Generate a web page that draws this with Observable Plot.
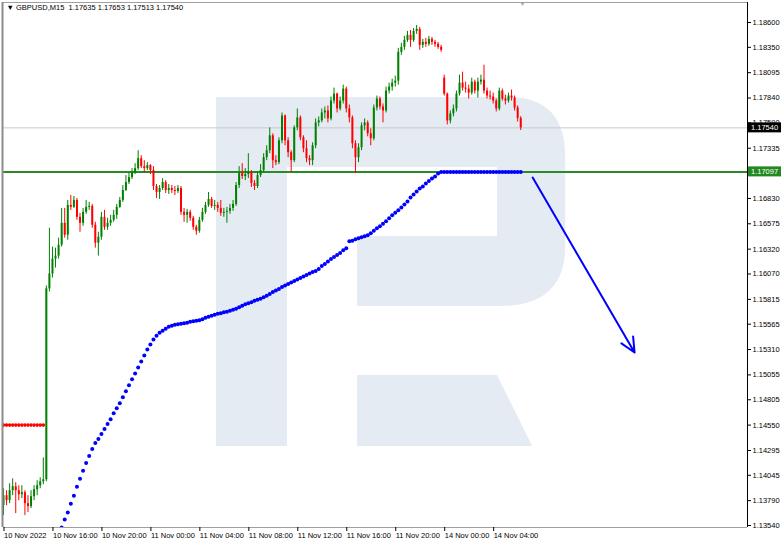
<!DOCTYPE html>
<html><head><meta charset="utf-8">
<script src="https://cdn.jsdelivr.net/npm/d3@7"></script>
<script src="https://cdn.jsdelivr.net/npm/@observablehq/plot@0.6"></script>
<style>
html,body{margin:0;padding:0;background:#fff;}
#chart{width:782px;height:543px;overflow:hidden;}
</style></head><body><div id="chart"></div>
<script>
// ---------- data ----------
const symbolLabel = "GBPUSD,M15";
const lastQuote = [1.17635, 1.17653, 1.17513, 1.17540];
const timeTickBars = [0, 16, 32, 48, 64, 80, 96, 112, 128, 144, 160];
const timeLabels = ["10 Nov 2022", "10 Nov 16:00", "10 Nov 20:00", "11 Nov 00:00", "11 Nov 04:00",
  "11 Nov 08:00", "11 Nov 12:00", "11 Nov 16:00", "11 Nov 20:00", "14 Nov 00:00", "14 Nov 04:00"];
const priceTicks = [1.18600, 1.18350, 1.18095, 1.17840, 1.17590, 1.17335, 1.16830, 1.16575, 1.16320,
  1.16070, 1.15815, 1.15565, 1.15310, 1.15055, 1.14805, 1.14550, 1.14295, 1.14045, 1.13790, 1.13540];

const firstOpen = 1.1374;
const gapBar = 144, gapOpen = 1.1804;
const closes = [
  1.1384,1.1379,1.1389,1.1393,1.1389,1.1385,1.1387,1.1376,1.1373,1.1383,
  1.1390,1.1394,1.1398,1.1400,1.1592,1.1607,1.1622,1.1625,1.1636,1.1658,
  1.1646,1.1676,1.1674,1.1681,1.1664,1.1658,1.1669,1.1674,1.1675,1.1656,
  1.1638,1.1644,1.1664,1.1654,1.1658,1.1661,1.1666,1.1674,1.1681,1.1691,
  1.1699,1.1704,1.1709,1.1713,1.1723,1.1715,1.1713,1.1716,1.1711,1.1695,
  1.1689,1.1693,1.1699,1.1691,1.1693,1.1691,1.1690,1.1693,1.1669,1.1666,
  1.1669,1.1663,1.1654,1.1650,1.1661,1.1669,1.1676,1.1682,1.1675,1.1676,
  1.1673,1.1668,1.1669,1.1670,1.1673,1.1677,1.1696,1.1708,1.1705,1.1707,
  1.1709,1.1698,1.1695,1.1706,1.1711,1.1724,1.1731,1.1746,1.1721,1.1719,
  1.1741,1.1766,1.1741,1.1729,1.1721,1.1754,1.1764,1.1744,1.1733,1.1723,
  1.1721,1.1736,1.1759,1.1761,1.1769,1.1771,1.1763,1.1781,1.1788,1.1773,
  1.1781,1.1793,1.1773,1.1764,1.1738,1.1724,1.1734,1.1756,1.1759,1.1748,
  1.1743,1.1774,1.1783,1.1775,1.1771,1.1791,1.1795,1.1799,1.1801,1.1830,
  1.1835,1.1842,1.1847,1.1842,1.1851,1.1853,1.1837,1.1840,1.1838,1.1843,
  1.1840,1.1838,1.1835,1.1832,1.1788,1.1761,1.1768,1.1773,1.1788,1.1799,
  1.1794,1.1793,1.1789,1.1800,1.1791,1.1800,1.1802,1.1791,1.1786,1.1785,
  1.1781,1.1773,1.1791,1.1783,1.1781,1.1786,1.1784,1.1774,1.17635,1.17540];
const highs = [
  1.1391,1.1389,1.1396,1.1401,1.1397,1.1394,1.1394,1.1389,1.1384,1.1389,
  1.1394,1.1399,1.1402,1.1422,1.1595,1.1653,1.1634,1.1633,1.1643,1.1673,
  1.1673,1.1681,1.1686,1.1685,1.1683,1.1668,1.1673,1.1681,1.1679,1.1677,
  1.1659,1.1649,1.1669,1.1671,1.1663,1.1666,1.1671,1.1677,1.1684,1.1696,
  1.1706,1.1709,1.1713,1.1718,1.1731,1.1726,1.1721,1.1719,1.1717,1.1715,
  1.1697,1.1696,1.1703,1.1701,1.1697,1.1696,1.1695,1.1696,1.1695,1.1673,
  1.1672,1.1671,1.1665,1.1656,1.1664,1.1673,1.1679,1.1689,1.1684,1.1681,
  1.1679,1.1681,1.1673,1.1674,1.1677,1.1681,1.1699,1.1715,1.1718,1.1713,
  1.1728,1.1711,1.1701,1.1709,1.1717,1.1728,1.1736,1.1754,1.1748,1.1726,
  1.1744,1.1769,1.1767,1.1744,1.1731,1.1756,1.1773,1.1766,1.1746,1.1741,
  1.1726,1.1739,1.1763,1.1765,1.1773,1.1775,1.1776,1.1785,1.1794,1.1789,
  1.1785,1.1797,1.1795,1.1777,1.1766,1.1741,1.1738,1.1759,1.1763,1.1761,
  1.1753,1.1777,1.1786,1.1785,1.1778,1.1795,1.1799,1.1803,1.1806,1.1834,
  1.1839,1.1846,1.1851,1.1852,1.1854,1.1857,1.1855,1.1843,1.1844,1.1846,
  1.1845,1.1842,1.1840,1.1837,1.1807,1.1789,1.1771,1.1777,1.1791,1.1807,
  1.1810,1.1800,1.1797,1.1804,1.1802,1.1804,1.1807,1.1817,1.1794,1.1791,
  1.1789,1.1783,1.1794,1.1793,1.1787,1.1789,1.1792,1.1786,1.1776,1.17653];
const lows = [
  1.1364,1.1374,1.1376,1.1384,1.1366,1.1379,1.1381,1.1364,1.1367,1.1371,
  1.1379,1.1384,1.1391,1.1395,1.1398,1.1589,1.1603,1.1613,1.1622,1.1634,
  1.1643,1.1641,1.1671,1.1673,1.1661,1.1649,1.1655,1.1667,1.1671,1.1653,
  1.1633,1.1625,1.1641,1.1651,1.1651,1.1655,1.1659,1.1662,1.1673,1.1679,
  1.1690,1.1697,1.1702,1.1707,1.1711,1.1713,1.1709,1.1711,1.1707,1.1691,
  1.1683,1.1682,1.1691,1.1688,1.1687,1.1688,1.1686,1.1688,1.1666,1.1659,
  1.1658,1.1660,1.1651,1.1646,1.1648,1.1659,1.1667,1.1674,1.1673,1.1671,
  1.1669,1.1665,1.1664,1.1658,1.1667,1.1670,1.1675,1.1693,1.1702,1.1701,
  1.1703,1.1694,1.1691,1.1693,1.1704,1.1709,1.1721,1.1728,1.1713,1.1716,
  1.1717,1.1738,1.1736,1.1724,1.1709,1.1719,1.1751,1.1741,1.1729,1.1719,
  1.1716,1.1716,1.1733,1.1755,1.1759,1.1763,1.1759,1.1761,1.1778,1.1769,
  1.1771,1.1778,1.1769,1.1759,1.1733,1.1708,1.1719,1.1731,1.1751,1.1745,
  1.1736,1.1741,1.1771,1.1772,1.1759,1.1769,1.1788,1.1791,1.1795,1.1797,
  1.1827,1.1832,1.1840,1.1835,1.1840,1.1848,1.1832,1.1834,1.1835,1.1836,
  1.1837,1.1835,1.1833,1.1830,1.1786,1.1757,1.1758,1.1765,1.1770,1.1786,
  1.1791,1.1789,1.1783,1.1787,1.1788,1.1784,1.1797,1.1788,1.1783,1.1782,
  1.1778,1.1770,1.1771,1.1781,1.1777,1.1779,1.1781,1.1771,1.1760,1.17513];

// blue dotted indicator, one value per bar starting at bar 19
const trendStart = 19;
const trendValues = [
  1.1352,1.1360,1.1367,1.1376,1.1384,1.1393,1.1401,1.1409,1.1417,1.1424,
  1.1431,1.1437,1.1441,1.1446,1.1451,1.1456,1.1461,1.1467,1.1472,1.1477,
  1.1483,1.1489,1.1495,1.1501,1.1507,1.1513,1.1519,1.1525,1.1531,1.1536,
  1.1541,1.1545,1.1548,1.1550,1.1552,1.1554,1.1555,1.1556,1.15565,1.1557,
  1.15575,1.1558,1.1559,1.15595,1.1560,1.15605,1.15615,1.1563,1.1564,1.1565,
  1.1566,1.1567,1.15675,1.15685,1.1569,1.1570,1.1571,1.1572,1.15735,1.1575,
  1.15765,1.15775,1.15785,1.1580,1.1581,1.1582,1.15835,1.1585,1.1587,1.1589,
  1.15905,1.1592,1.1594,1.15955,1.1597,1.15985,1.1600,1.16015,1.1603,1.16045,
  1.1606,1.16075,1.1609,1.1610,1.1612,1.1615,1.1617,1.16195,1.1622,1.1624,
  1.1626,1.1628,1.1631,1.1633,1.1640,1.16405,1.1642,1.1643,1.1644,1.1645,
  1.1646,1.1648,1.16505,1.1653,1.1655,1.16575,1.1660,1.1663,1.1666,1.16685,
  1.1671,1.1674,1.1677,1.1680,1.1684,1.1687,1.1690,1.1693,1.1695,1.1698,
  1.17005,1.1703,1.1705,1.1708,1.17095,1.17097,1.17097,1.17097,1.17097,1.17097,
  1.17097,1.17097,1.17097,1.17097,1.17097,1.17097,1.17097,1.17097,1.17097,1.17097,
  1.17097,1.17097,1.17097,1.17097,1.17097,1.17097,1.17097,1.17097,1.17097,1.17097,
  1.17097];
// red dotted level on the first bars
const redLevelBars = [0,1,2,3,4,5,6,7,8,9,10,11,12,13];
const redLevelValue = 1.1455;
const supportLevel = 1.17097;
const bidLevel = 1.17540;
const forecast = [{x1: 172.9, y1: 1.1704, x2: 206.2, y2: 1.1528}];
const shiftMarkerBar = 169.6;

// watermark ("R" logo) outline, in (bar, price) units
const logoBody = [[69.6,1.17845],[165,1.17845],["q",183.7,1.17845,183.7,1.17242],[183.7,1.16346],
  ["q",183.7,1.15743,162.4,1.15743],[115.7,1.15743],[115.7,1.16447],[161.4,1.16447],[161.4,1.17141],
  [92.8,1.17141],[92.8,1.14334],[69.6,1.14334]];
const logoLeg = [[115.7,1.15049],[161.4,1.15049],[172.9,1.14334],[115.7,1.14334]];

// ---------- build ----------
const bars = closes.map((c, i) => ({
  i, c, h: highs[i], l: lows[i],
  o: i === 0 ? firstOpen : (i === gapBar ? gapOpen : closes[i - 1])
}));
const bullBars = bars.filter(d => d.c >= d.o);
const bearBars = bars.filter(d => d.c < d.o);
const trend = trendValues.map((v, k) => ({i: trendStart + k, v}));
const redLevel = redLevelBars.map(i => ({i, v: redLevelValue}));

const xDomain = [0, 243.1];
const yDomain = [1.13520, 1.18801];
const bull = "#008000", bear = "#ff0000";
const fmt = d3.format(".5f");
const FONT = "'Liberation Sans', Arial, sans-serif";

function logoMark(index, scales) {
  const draw = (pts) => {
    const p = d3.path();
    pts.forEach((q, k) => {
      if (q[0] === "q") p.quadraticCurveTo(scales.x(q[1]), scales.y(q[2]), scales.x(q[3]), scales.y(q[4]));
      else if (k === 0) p.moveTo(scales.x(q[0]), scales.y(q[1]));
      else p.lineTo(scales.x(q[0]), scales.y(q[1]));
    });
    p.closePath();
    return p.toString();
  };
  const g = d3.create("svg:g");
  g.append("path").attr("d", draw(logoBody)).attr("fill", "#e5ebf3");
  g.append("path").attr("d", draw(logoLeg)).attr("fill", "#e5ebf3");
  return g.node();
}

function priceTag(value, bg) {
  return (index, scales, values, dims) => {
    const y = scales.y(value);
    const x0 = dims.width - dims.marginRight + 1;
    const g = d3.create("svg:g");
    g.append("rect").attr("x", x0).attr("y", y - 5).attr("width", 33).attr("height", 10).attr("fill", bg);
    g.append("text").attr("x", x0 + 3).attr("y", y).attr("dy", "0.35em")
      .attr("text-anchor", "start").style("text-anchor", "start")
      .attr("fill", "white").attr("font-size", 7.5).attr("font-family", FONT).text(fmt(value));
    return g.node();
  };
}

const chart = Plot.plot({
  width: 782, height: 543,
  marginLeft: 3, marginRight: 35, marginTop: 2, marginBottom: 16,
  x: {domain: xDomain},
  y: {domain: yDomain},
  style: {fontFamily: FONT, fontSize: "7.5px", background: "white", color: "#000", overflow: "visible"},
  marks: [
    logoMark,
    Plot.ruleY([bidLevel], {stroke: "#c8c8c8", strokeWidth: 1}),
    Plot.ruleY([supportLevel], {stroke: "#2a8a2a", strokeWidth: 2}),
    Plot.ruleX(bullBars, {x: "i", y1: "l", y2: "h", stroke: bull, strokeWidth: 1}),
    Plot.ruleX(bearBars, {x: "i", y1: "l", y2: "h", stroke: bear, strokeWidth: 1}),
    Plot.ruleX(bullBars, {x: "i", y1: "o", y2: "c", stroke: bull, strokeWidth: 2}),
    Plot.ruleX(bearBars, {x: "i", y1: "o", y2: "c", stroke: bear, strokeWidth: 2}),
    Plot.dot(redLevel, {x: "i", y: "v", r: 1.8, fill: "#ff0000"}),
    Plot.dot(trend, {x: "i", y: "v", r: 2, fill: "#0000ff", clip: true}),
    Plot.arrow(forecast, {x1: "x1", y1: "y1", x2: "x2", y2: "y2", stroke: "#0000ff", strokeWidth: 2, headLength: 12, headAngle: 50}),
    Plot.ruleY([yDomain[1]], {stroke: "#a0a0a0", strokeWidth: 1}),
    Plot.ruleY([yDomain[0]], {stroke: "#a0a0a0", strokeWidth: 1}),
    Plot.ruleX([xDomain[0]], {stroke: "#8c8c8c", strokeWidth: 2, dx: -1}),
    Plot.ruleX([xDomain[1]], {stroke: "#000", strokeWidth: 1}),
    Plot.axisY({anchor: "right", ticks: priceTicks, tickFormat: fmt, tickSize: 3, tickPadding: 2, stroke: "#000"}),
    Plot.axisX({anchor: "bottom", ticks: timeTickBars, tickFormat: (d) => timeLabels[timeTickBars.indexOf(d)],
      tickSize: 4, tickPadding: 1, textAnchor: "start", dx: 0.5, stroke: "#000"}),
    Plot.text([`\u25BC ${symbolLabel}  ${lastQuote.map(fmt).join(" ")}`], {frameAnchor: "top-left", dx: 3, dy: 2.5, textAnchor: "start", fill: "#000", fontSize: 7.5}),
    Plot.text([shiftMarkerBar], {x: d => d, frameAnchor: "top", text: () => "\u25BC", fill: "#a0a0a0", fontSize: 6, dy: -1}),
    priceTag(bidLevel, "#000"),
    priceTag(supportLevel, "#1f8a1f")
  ]
});
document.getElementById("chart").appendChild(chart);
</script>
</body></html>
